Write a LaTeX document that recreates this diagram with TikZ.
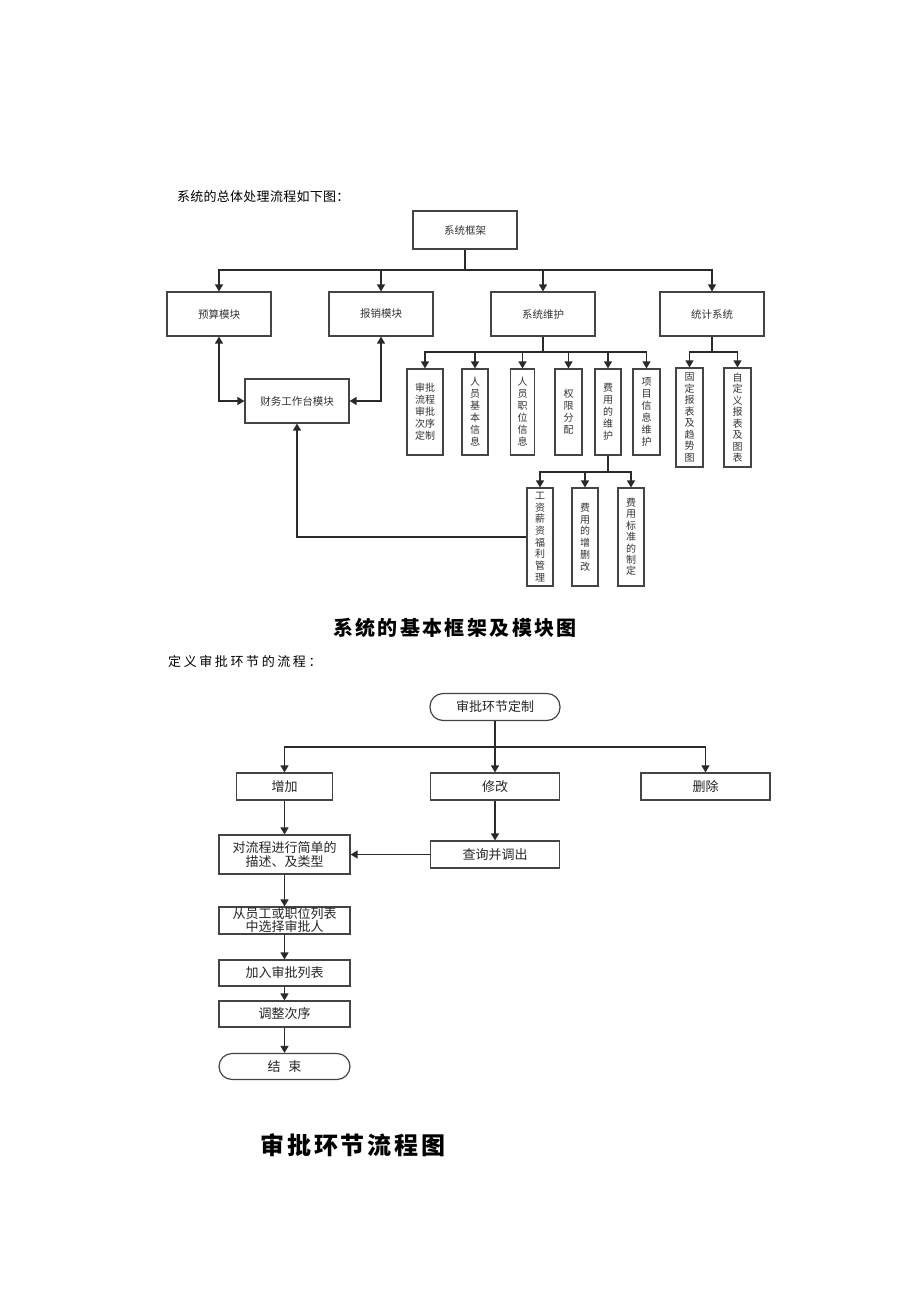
\documentclass[tikz,border=0pt]{standalone}
\usepackage{fontspec}
\setmainfont{Noto Sans CJK SC}
\newfontfamily\introA[LetterSpace=2]{Noto Sans CJK SC}
\newfontfamily\introB[LetterSpace=20]{Noto Sans CJK SC}
\newfontfamily\capfont[LetterSpace=12]{Noto Sans CJK SC}
\usetikzlibrary{arrows.meta}
\definecolor{ln}{HTML}{2A2A2A}
\definecolor{bd}{HTML}{444444}
\tikzset{
  arr/.style={draw=ln, line width=1.3pt, -{Triangle[length=7pt,width=8pt]}},
  dbl/.style={draw=ln, line width=1.3pt, {Triangle[length=7pt,width=8pt]}-{Triangle[length=7pt,width=8pt]}},
  ln/.style={draw=ln, line width=1.3pt},
  tbox/.style={draw=bd, line width=1.2pt, inner sep=0pt, minimum width=104pt, minimum height=44pt, font=\fontsize{10.5}{12}\selectfont, text=black!80},
  vbox/.style={draw=bd, line width=1.2pt, inner sep=0pt, minimum width=26pt, minimum height=86pt, align=center, font=\fontsize{10}{12}\selectfont, text=black!80},
  bbox/.style={draw=bd, line width=1.2pt, inner sep=0pt, minimum width=129pt, minimum height=27pt, align=center, font=\fontsize{13}{14.5}\selectfont, text=black!85},
  rbox/.style={bbox, rounded corners=13pt},
}
\begin{document}
\begin{tikzpicture}[x=1pt,y=-1pt]
\fill[white] (0,0) rectangle (920,1302);
\useasboundingbox (0,0) rectangle (920,1302);

% ---------- texts ----------
\node[anchor=west, inner sep=0pt, font=\introA\fontsize{13}{15}\selectfont] (intro1) at (177,197) {系统的总体处理流程如下图：};
\node[inner sep=0pt, font=\capfont\bfseries\fontsize{20}{22}\selectfont] (cap1) at (455,628) {系统的基本框架及模块图};
\node[anchor=west, inner sep=0pt, font=\introB\fontsize{13}{15}\selectfont] (intro2) at (168,662) {定义审批环节的流程：};
\node[inner sep=0pt, font=\capfont\bfseries\fontsize{24}{26}\selectfont] (cap2) at (353,1145) {审批环节流程图};

% ---------- top diagram ----------
\node[tbox, minimum height=38pt] (frame) at (465,230) {系统框架};
\node[tbox] (ys) at (219,314) {预算模块};
\node[tbox] (bx) at (381,314) {报销模块};
\node[tbox] (wh) at (543,314) {系统维护};
\node[tbox] (tj) at (712,314) {统计系统};
\node[tbox] (cw) at (297,401) {财务工作台模块};

\coordinate (j0) at (465,270);
\draw[ln] (frame) -- (j0);
\draw[arr] (j0) -| (ys);
\draw[arr] (j0) -| (bx);
\draw[arr] (j0) -| (wh);
\draw[arr] (j0) -| (tj);

\draw[dbl] (ys.south) |- (cw.west);
\draw[dbl] (bx.south) |- (cw.east);

% system maintenance children
\node[vbox, minimum width=36pt] (c1) at (425,412) {审批\\流程\\审批\\次序\\定制};
\node[vbox] (c2) at (475,412) {人\\员\\基\\本\\信\\息};
\node[vbox, minimum width=24pt] (c3) at (522.5,412) {人\\员\\职\\位\\信\\息};
\node[vbox, minimum width=27pt] (c4) at (568.5,412) {权\\限\\分\\配};
\node[vbox] (c5) at (608,412) {费\\用\\的\\维\\护};
\node[vbox, minimum width=27pt] (c6) at (646.5,412) {项\\目\\信\\息\\维\\护};

\coordinate (j1) at (543,352);
\draw[ln] (wh) -- (j1);
\foreach \c in {c1,c2,c3,c4,c5,c6} { \draw[arr] (j1) -| (\c); }

% statistics children
\node[vbox, minimum width=27pt, minimum height=99pt, font=\fontsize{10}{11.5}\selectfont] (s1) at (689.5,417.5) {固\\定\\报\\表\\及\\趋\\势\\图};
\node[vbox, minimum width=27pt, minimum height=99pt, font=\fontsize{10}{11.5}\selectfont] (s2) at (737.5,417.5) {自\\定\\义\\报\\表\\及\\图\\表};
\coordinate (j2) at (712,352);
\draw[ln] (tj) -- (j2);
\draw[arr] (j2) -| (s1);
\draw[arr] (j2) -| (s2);

% fee children
\node[vbox, minimum height=98pt, font=\fontsize{10}{11.7}\selectfont] (f1) at (540,537) {工\\资\\薪\\资\\福\\利\\管\\理};
\node[vbox, minimum height=98pt, font=\fontsize{10}{11.7}\selectfont] (f2) at (585,537) {费\\用\\的\\增\\删\\改};
\node[vbox, minimum height=98pt, font=\fontsize{10}{11.4}\selectfont] (f3) at (631,537) {费\\用\\标\\准\\的\\制\\定};
\coordinate (j3) at (608,472);
\draw[ln] (c5) -- (j3);
\draw[arr] (j3) -| (f1);
\draw[arr] (j3) -| (f2);
\draw[arr] (j3) -| (f3);

\draw[arr] (f1.west) -| (cw.south);

% ---------- bottom diagram ----------
\node[rbox, minimum width=130pt] (st) at (495,707) {审批环节定制};
\node[bbox, minimum width=96pt] (zj) at (284.5,786.5) {增加};
\node[bbox] (xg) at (495,786.5) {修改};
\node[bbox] (sc) at (705.5,786.5) {删除};
\coordinate (j4) at (495,747);
\draw[ln] (st) -- (j4);
\draw[arr] (j4) -| (zj);
\draw[arr] (j4) -- (xg);
\draw[arr] (j4) -| (sc);

\node[bbox, minimum width=131pt, minimum height=39pt] (ms) at (284.5,854.5) {对流程进行简单的\\描述、及类型};
\node[bbox] (cx) at (495,854.5) {查询并调出};
\node[bbox, minimum width=131pt, font=\fontsize{13}{13}\selectfont] (xz) at (284.5,920.5) {从员工或职位列表\\中选择审批人};
\node[bbox, minimum width=131pt, minimum height=26pt] (jr) at (284.5,973) {加入审批列表};
\node[bbox, minimum width=131pt, minimum height=26pt] (tz) at (284.5,1014) {调整次序};
\node[rbox, minimum width=131pt, minimum height=26pt] (end) at (284.5,1066.5) {结\hspace{8pt}束};

\draw[arr] (zj) -- (ms);
\draw[arr] (xg) -- (cx);
\draw[arr] (cx) -- (ms);
\draw[arr] (ms) -- (xz);
\draw[arr] (xz) -- (jr);
\draw[arr] (jr) -- (tz);
\draw[arr] (tz) -- (end);
\end{tikzpicture}
\end{document}
